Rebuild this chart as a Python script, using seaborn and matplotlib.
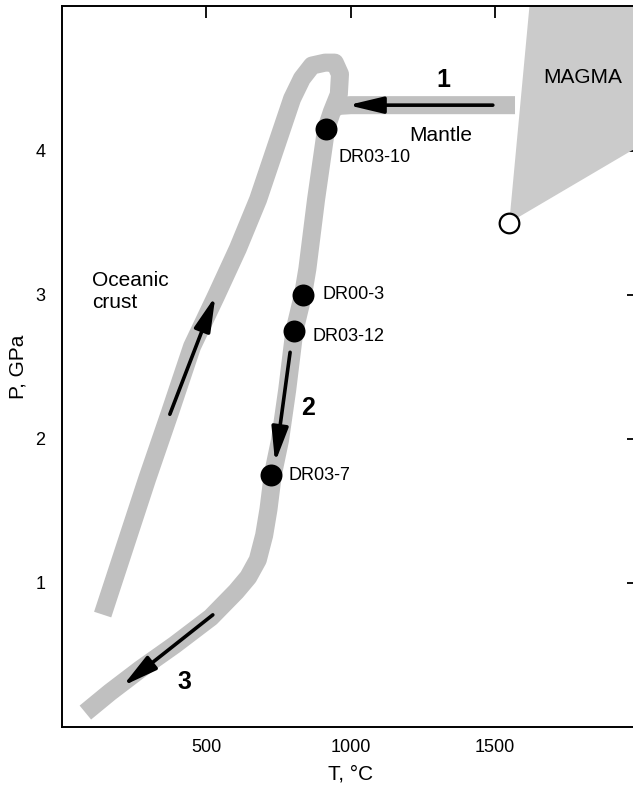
import matplotlib
matplotlib.use("Agg")
import matplotlib.pyplot as plt
import seaborn as sns
import pandas as pd

sns.set_theme(style="white")
plt.rcParams['font.family'] = ['Liberation Sans', 'DejaVu Sans']
plt.rcParams['text.color'] = 'black'
plt.rcParams['axes.labelcolor'] = 'black'
plt.rcParams['xtick.color'] = 'black'
plt.rcParams['ytick.color'] = 'black'

# ---- data (T in °C, P in GPa) ----
path_T = [140, 217, 294, 373, 450, 533, 609, 679, 738, 797, 831, 866, 911, 945,
          963, 959, 935, 915, 880, 850, 835, 805, 780, 755, 730, 715, 700, 678,
          645, 603, 515, 390, 270, 165, 80]
path_P = [0.78, 1.25, 1.72, 2.18, 2.64, 2.99, 3.32, 3.66, 4.01, 4.36, 4.50, 4.59,
          4.61, 4.61, 4.53, 4.39, 4.27, 4.15, 3.66, 3.18, 3.00, 2.75, 2.34, 1.99,
          1.75, 1.51, 1.33, 1.16, 1.04, 0.94, 0.76, 0.57, 0.40, 0.24, 0.10]

mantle_T = [930, 960, 1000, 1570]
mantle_P = [4.28, 4.31, 4.315, 4.315]

magma_T = [1550, 1620, 2000, 2000]
magma_P = [3.5, 5.0, 5.0, 4.03]

samples = ["DR03-10", "DR00-3", "DR03-12", "DR03-7"]
sample_T = [915, 835, 805, 725]
sample_P = [4.15, 3.00, 2.75, 1.75]
label_T = [957, 901, 869, 786]
label_P = [3.95, 3.0, 2.71, 1.745]

magma_point_T = [1550]
magma_point_P = [3.5]

# arrows: (tail T, tail P, tip T, tip P)
arrows = [(1493, 4.315, 991, 4.315),
          (790, 2.60, 738, 1.835),
          (373, 2.17, 531, 2.99),
          (522, 0.778, 210, 0.285)]

x_ticks = [500, 1000, 1500]
y_ticks = [1, 2, 3, 4]

# ---- figure ----
fig = plt.figure(figsize=(6.33, 7.86), dpi=100)
ax = fig.add_axes([0.0984, 0.0751, 0.9111, 0.9167])

band = "#c0c0c0"
ax.fill(magma_T, magma_P, color="#cbcbcb", lw=0, zorder=1)

df_path = pd.DataFrame({"T": path_T, "P": path_P})
sns.lineplot(data=df_path, x="T", y="P", sort=False, estimator=None, ax=ax,
             color=band, lw=13, zorder=2,
             solid_capstyle="butt", solid_joinstyle="round")
df_m = pd.DataFrame({"T": mantle_T, "P": mantle_P})
sns.lineplot(data=df_m, x="T", y="P", sort=False, estimator=None, ax=ax,
             color=band, lw=13, zorder=2,
             solid_capstyle="butt", solid_joinstyle="round")

for tT, tP, hT, hP in arrows:
    ax.annotate("", xy=(hT, hP), xytext=(tT, tP),
                arrowprops=dict(arrowstyle="-|>,head_length=1.05,head_width=0.25",
                                mutation_scale=20, lw=2.6, color="black",
                                shrinkA=0, shrinkB=0), zorder=4)

df_s = pd.DataFrame({"T": sample_T, "P": sample_P, "name": samples})
sns.scatterplot(data=df_s, x="T", y="P", ax=ax, color="black", s=250,
                edgecolor="black", linewidth=0, zorder=5)
ax.scatter(magma_point_T, magma_point_P, s=200, facecolor="white",
           edgecolor="black", linewidth=1.6, zorder=5)

for name, lx, ly in zip(samples, label_T, label_P):
    ax.text(lx, ly, name, fontsize=13, ha="left", va="center", zorder=6)

ax.text(1805, 4.51, "MAGMA", fontsize=15, ha="center", va="center")
ax.text(1313, 4.107, "Mantle", fontsize=15, ha="center", va="center")
ax.text(103, 3.02, "Oceanic\ncrust", fontsize=15, ha="left", va="center",
        linespacing=1.2)
ax.text(1323, 4.49, "1", fontsize=18, fontweight="bold", ha="center", va="center")
ax.text(852, 2.21, "2", fontsize=18, fontweight="bold", ha="center", va="center")
ax.text(423, 0.31, "3", fontsize=18, fontweight="bold", ha="center", va="center")

ax.set_xlim(0, 2000)
ax.set_ylim(0, 5.0)
ax.set_xticks(x_ticks)
ax.set_yticks(y_ticks)
ax.tick_params(direction="in", length=8.6, width=1.3, top=True, right=True,
               labelsize=13, color="black", labelcolor="black")
ax.tick_params(axis="y", pad=12)
ax.tick_params(axis="x", pad=9)
for sp in ax.spines.values():
    sp.set_color("black")
    sp.set_linewidth(1.4)
ax.set_xlabel("T, °C", fontsize=15, labelpad=6, color="black")
ax.set_ylabel("P, GPa", fontsize=15, labelpad=6, color="black")
ax.grid(False)

fig.savefig("out.png", dpi=100)
